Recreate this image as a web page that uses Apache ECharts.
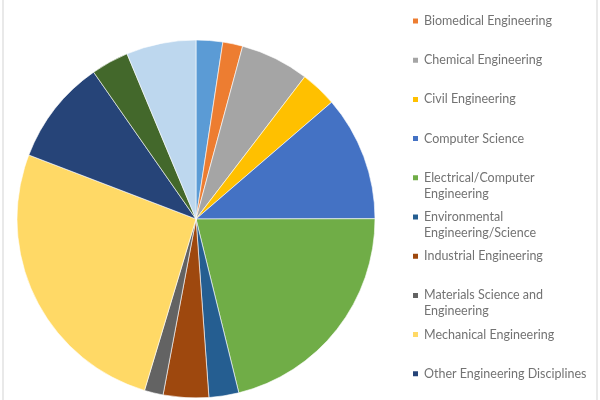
<!DOCTYPE html>
<html>
<head>
<meta charset="utf-8">
<script src="https://cdn.jsdelivr.net/npm/echarts@6/dist/echarts.min.js"></script>
<style>
html,body{margin:0;padding:0;background:#fff;}
#chart{width:600px;height:400px;}
</style>
</head>
<body>
<div id="chart"></div>
<script>
// Data (share of degrees, %)
var categories = [
  "Aerospace Engineering",
  "Biomedical Engineering",
  "Chemical Engineering",
  "Civil Engineering",
  "Computer Science",
  "Electrical/Computer Engineering",
  "Environmental Engineering/Science",
  "Industrial Engineering",
  "Materials Science and Engineering",
  "Mechanical Engineering",
  "Other Engineering Disciplines",
  "Petroleum Engineering",
  "Undeclared"
];
var values = [2.4, 1.8, 6.2, 3.3, 11.3, 21.2, 2.7, 4.1, 1.7, 26.2, 9.5, 3.4, 6.3];
var colors = ["#5B9BD5", "#ED7D31", "#A5A5A5", "#FFC000", "#4472C4", "#70AD47",
              "#255E91", "#9E480E", "#636363", "#FFD966", "#264478", "#43682B", "#BDD7EE"];
var legendLabels = {
  "Electrical/Computer Engineering": "Electrical/Computer\nEngineering",
  "Environmental Engineering/Science": "Environmental\nEngineering/Science",
  "Materials Science and Engineering": "Materials Science and\nEngineering"
};

var chart = echarts.init(document.getElementById('chart'), null, {renderer: 'canvas'});

var legends = categories.map(function (name, i) {
  var twoLine = !!legendLabels[name];
  return {
    data: [name],
    orient: 'vertical',
    left: 411,
    top: -26.2 + i * 39.2,
    padding: 0,
    itemWidth: 7,
    itemHeight: twoLine ? 23 : 7,
    icon: twoLine ? 'path://M0,0h7v7h-7z M0,22.99h0.01v0.01h-0.01z' : 'rect',
    selectedMode: false,
    formatter: function (n) { return legendLabels[n] || n; },
    textStyle: {
      fontFamily: 'Lato, "Open Sans", sans-serif',
      fontSize: 12.5,
      color: '#737373',
      lineHeight: 16
    }
  };
});

chart.setOption({
  backgroundColor: '#ffffff',
  animation: false,
  color: colors,
  legend: legends,
  graphic: [
    {type: 'rect', shape: {x: 2, y: 0, width: 2, height: 400}, style: {fill: '#e9e9e9'}, silent: true},
    {type: 'rect', shape: {x: 596, y: 0, width: 2, height: 400}, style: {fill: '#e9e9e9'}, silent: true}
  ],
  series: [{
    type: 'pie',
    center: [196, 219],
    radius: 179,
    startAngle: 90,
    clockwise: true,
    label: {show: false},
    labelLine: {show: false},
    itemStyle: {borderColor: '#ffffff', borderWidth: 0.6},
    emphasis: {disabled: true},
    data: categories.map(function (n, i) { return {name: n, value: values[i]}; })
  }]
});
</script>
</body>
</html>
